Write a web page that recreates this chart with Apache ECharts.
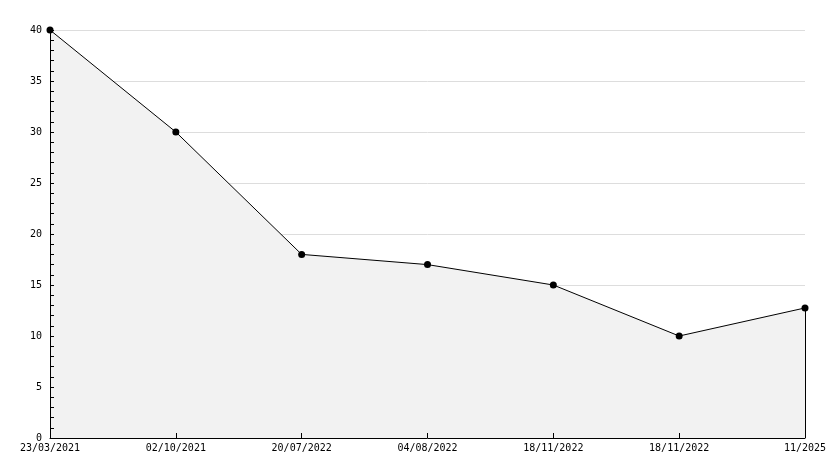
<!DOCTYPE html>
<html>
<head>
<meta charset="utf-8">
<script src="https://cdn.jsdelivr.net/npm/echarts@6/dist/echarts.min.js"></script>
<style>html,body{margin:0;padding:0;background:#fff}#c{width:834px;height:468px}</style>
</head>
<body>
<div id="c"></div>
<script>
const categories = ['23/03/2021','02/10/2021','20/07/2022','04/08/2022','18/11/2022','18/11/2022','11/2025'];
const values = [40, 30, 18, 17, 15, 10, 12.75];

const lastIdx = categories.length - 1;
const chart = echarts.init(document.getElementById('c'), null, {renderer:'canvas'});
const font = {fontFamily:'DejaVu Sans Mono', fontSize:10, color:'#000'};
chart.setOption({
  animation:false,
  grid:{left:50, right:29, top:30, bottom:30},
  xAxis:{
    type:'category', data:categories, boundaryGap:false, z:10,
    axisLine:{lineStyle:{color:'#000', width:1}},
    axisTick:{inside:true, length:5, lineStyle:{color:'#000'}},
    axisLabel:Object.assign({margin:5, interval:0}, font),
    splitLine:{show:false}
  },
  yAxis:[{
    type:'value', min:0, max:40, interval:5, z:0,
    axisLine:{show:false}, axisTick:{show:false}, axisLabel:{show:false},
    splitLine:{show:true, lineStyle:{color:'#dddddd', width:1}}
  },{
    type:'value', min:0, max:40, interval:5, z:10, position:'left', offset:0,
    axisLine:{show:true, lineStyle:{color:'#000', width:1}},
    axisTick:{show:true, inside:true, length:4, lineStyle:{color:'#000'}},
    minorTick:{show:true, splitNumber:5, length:4, lineStyle:{color:'#000'}},
    axisLabel:Object.assign({margin:8}, font),
    splitLine:{show:false}
  }],
  series:[{
    type:'line', data:values, z:2, yAxisIndex:0,
    symbol:'circle', symbolSize:7,
    itemStyle:{color:'#000'},
    lineStyle:{color:'#000', width:1},
    areaStyle:{color:'#f2f2f2', opacity:1},
    markLine:{
      silent:true, symbol:['none','none'], label:{show:false},
      lineStyle:{color:'#000', width:1, type:'solid'},
      data:[[{coord:[lastIdx, values[lastIdx]]},{coord:[lastIdx, 0]}]]
    }
  }]
});
</script>
</body>
</html>
